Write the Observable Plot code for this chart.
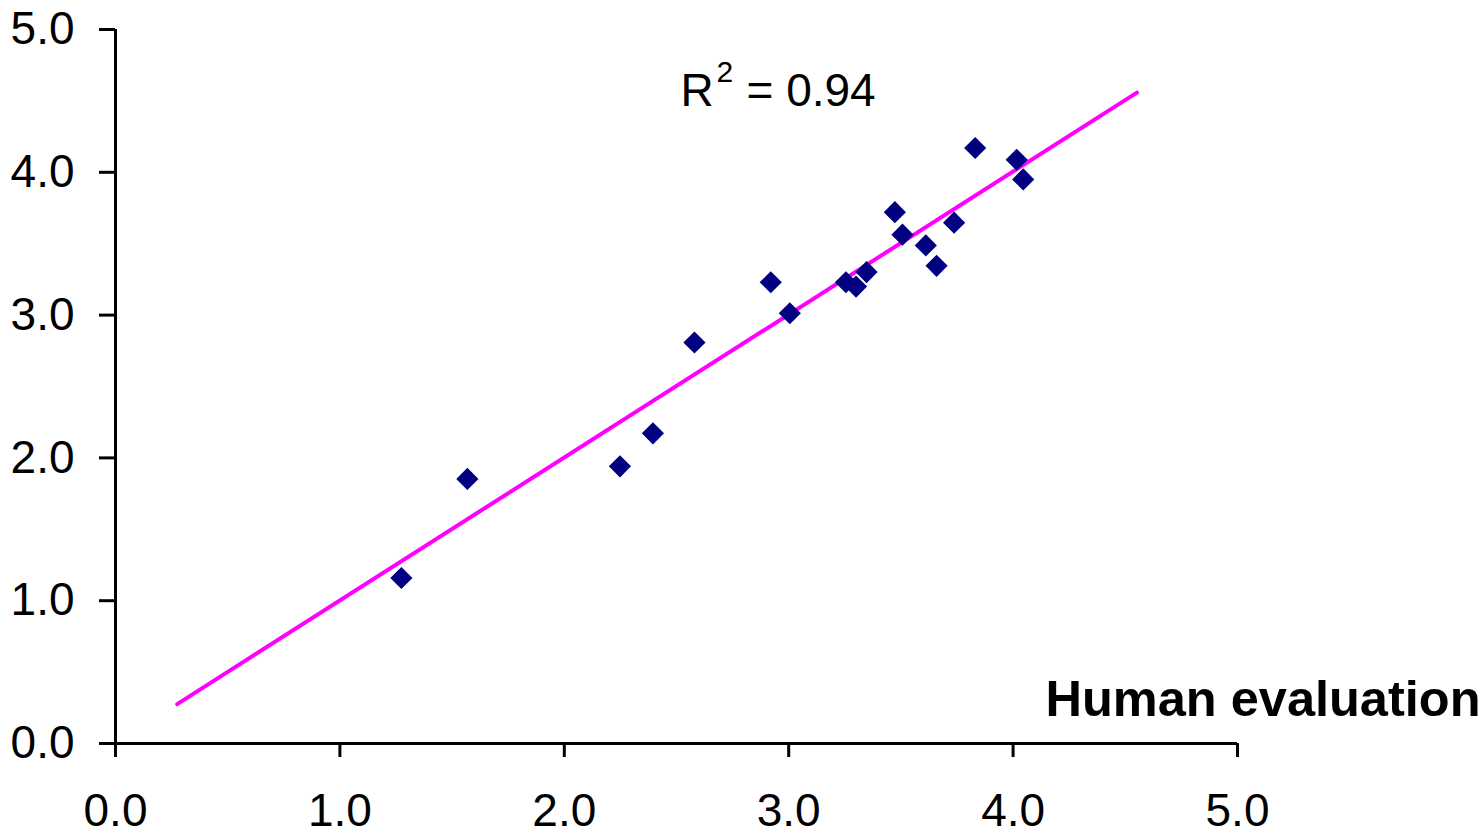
<!DOCTYPE html>
<html>
<head>
<meta charset="utf-8">
<script src="https://cdn.jsdelivr.net/npm/d3@7"></script>
<script src="https://cdn.jsdelivr.net/npm/@observablehq/plot@0.6"></script>
<style>
  body { margin: 0; background: #fff; }
  #chart svg { display: block; }
</style>
</head>
<body>
<div id="chart"></div>
<script>
// Human evaluation (x) vs automatic score (y)
const humanScores = [1.274, 1.568, 2.248, 2.395, 2.580, 2.920, 3.005, 3.255, 3.300, 3.347, 3.473, 3.507, 3.611, 3.659, 3.737, 3.831, 4.016, 4.045];
const autoScores  = [1.159, 1.853, 1.941, 2.172, 2.808, 3.230, 3.013, 3.230, 3.200, 3.301, 3.721, 3.563, 3.488, 3.345, 3.647, 4.170, 4.088, 3.950];
// Linear trendline end points
const trendX = [0.275, 4.552];
const trendY = [0.276, 4.558];
const xTicks = [0, 1, 2, 3, 4, 5];
const yTicks = [0, 1, 2, 3, 4, 5];
const r2Symbol = "R";
const r2Exponent = "2";
const r2Value = "= 0.94";
const xAxisTitle = "Human evaluation";

const points = humanScores.map((h, i) => ({x: h, y: autoScores[i]}));
const trend = trendX.map((x, i) => ({x, y: trendY[i]}));
const font = "'Liberation Sans', Arial, sans-serif";

const chart = Plot.plot({
  width: 1484,
  height: 833,
  marginLeft: 115,
  marginRight: 247,
  marginTop: 29,
  marginBottom: 90,
  style: {fontFamily: font, background: "white", color: "black", overflow: "visible"},
  x: {domain: [0, 5]},
  y: {domain: [0, 5]},
  marks: [
    Plot.axisX({ticks: xTicks, tickFormat: d3.format(".1f"), tickSize: 14, tickPadding: 36, strokeWidth: 3, fontSize: 46, label: null, fill: "black", stroke: "black"}),
    Plot.axisY({ticks: yTicks, tickFormat: d3.format(".1f"), tickSize: 16, tickPadding: 25, strokeWidth: 3, fontSize: 46, label: null, fill: "black", stroke: "black"}),
    Plot.ruleX([0], {stroke: "black", strokeWidth: 3}),
    Plot.ruleY([0], {stroke: "black", strokeWidth: 3}),
    Plot.line(trend, {x: "x", y: "y", stroke: "#ff00ff", strokeWidth: 4}),
    Plot.dot(points, {x: "x", y: "y", symbol: "diamond2", r: 10, fill: "#000080", stroke: "none"}),
    Plot.text([r2Symbol], {text: d => d, frameAnchor: "top-left", dx: 565, dy: 44, lineAnchor: "top", textAnchor: "start", fontSize: 46, fill: "black"}),
    Plot.text([r2Exponent], {text: d => d, frameAnchor: "top-left", dx: 601, dy: 31, lineAnchor: "top", textAnchor: "start", fontSize: 30, fill: "black"}),
    Plot.text([r2Value], {text: d => d, frameAnchor: "top-left", dx: 631, dy: 44, lineAnchor: "top", textAnchor: "start", fontSize: 46, fill: "black"}),
    Plot.text([xAxisTitle], {text: d => d, frameAnchor: "bottom-right", dx: 243, dy: -63, lineAnchor: "top", textAnchor: "end", fontSize: 50.5, fontWeight: "bold", fill: "black"})
  ]
});
document.getElementById("chart").appendChild(chart);
</script>
</body>
</html>
